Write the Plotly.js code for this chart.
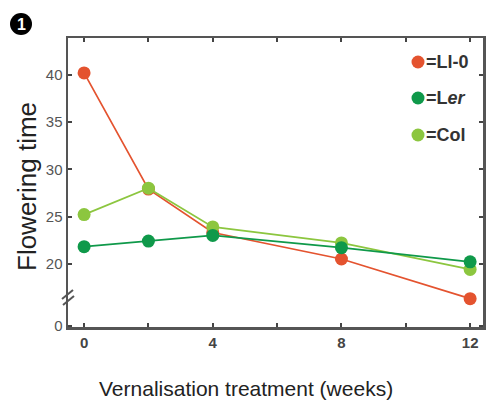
<!DOCTYPE html>
<html>
<head>
<meta charset="utf-8">
<script src="https://cdn.plot.ly/plotly-3.0.1.min.js"></script>
<style>html,body{margin:0;padding:0;background:#fff;}#chart{width:487px;height:401px;}</style>
</head>
<body>
<div id="chart"></div>
<script>
// Data
const weeks = [0, 2, 4, 8, 12];
const ll0 = [40.2, 27.9, 23.3, 20.5, 16.3];
const ler = [21.8, 22.4, 23.0, 21.7, 20.2];
const col = [25.2, 28.0, 23.9, 22.2, 19.4];
const seriesNames = ['=Ll-0', '=L<i>er</i>', '=Col'];
const seriesColors = ['#e4532f', '#0f994a', '#8cc63f'];
const xTickVals = [0, 2, 4, 6, 8, 10, 12];
const xTickText = ['0', '', '4', '', '8', '', '12'];
const yTickVals = [13.45, 20, 25, 30, 35, 40];
const yTickText = ['0', '20', '25', '30', '35', '40'];

const L = 68, R = 4, T = 38, B = 74, W = 487, H = 401;
const pw = W - L - R, ph = H - T - B;
const px2x = p => (p - L) / pw;
const py2y = p => (H - B - p) / ph;

function line(x, y, c) {
  return {x: x, y: y, type: 'scatter', mode: 'lines+markers', showlegend: false,
    line: {color: c, width: 1.7}, marker: {color: c, size: 13}, hoverinfo: 'skip'};
}
const traces = [
  line(weeks, ll0, seriesColors[0]),
  line(weeks, col, seriesColors[2]),
  line(weeks, ler, seriesColors[1])
];

const sans = 'Liberation Sans, Arial, sans-serif';
const annotations = [
  {text: '1', xref: 'paper', yref: 'paper', x: px2x(21), y: py2y(24.5), showarrow: false,
    font: {family: sans, size: 16, color: '#fff', weight: 'bold'}, xanchor: 'center', yanchor: 'middle'},
  {text: 'Flowering time', xref: 'paper', yref: 'paper', x: px2x(27), y: py2y(187), textangle: -90,
    showarrow: false, font: {family: sans, size: 26, color: '#222'},
    xanchor: 'center', yanchor: 'middle'},
  {text: 'Vernalisation treatment (weeks)', xref: 'paper', yref: 'paper', x: px2x(246), y: py2y(388),
    showarrow: false, font: {family: sans, size: 21, color: '#222'},
    xanchor: 'center', yanchor: 'middle'}
];
const shapes = [
  {type: 'circle', xref: 'paper', yref: 'paper', xsizemode: 'pixel', ysizemode: 'pixel',
    xanchor: px2x(21), yanchor: py2y(24), x0: -11, x1: 11, y0: -11, y1: 11,
    fillcolor: '#000', line: {width: 0}},
  {type: 'line', xref: 'paper', yref: 'paper', x0: px2x(62), y0: py2y(299), x1: px2x(73), y1: py2y(290),
    line: {color: '#555', width: 2}},
  {type: 'line', xref: 'paper', yref: 'paper', x0: px2x(63), y0: py2y(305), x1: px2x(74), y1: py2y(296),
    line: {color: '#555', width: 2}}
];
// legend (swatches + labels)
const legendRows = [62, 98, 135];
for (let i = 0; i < 3; i++) {
  shapes.push({type: 'circle', xref: 'paper', yref: 'paper', xsizemode: 'pixel', ysizemode: 'pixel',
    xanchor: px2x(418), yanchor: py2y(legendRows[i]), x0: -6.5, x1: 6.5, y0: -6.5, y1: 6.5,
    fillcolor: seriesColors[i], line: {width: 0}});
  annotations.push({text: seriesNames[i], xref: 'paper', yref: 'paper', x: px2x(424), y: py2y(legendRows[i]),
    showarrow: false, xanchor: 'left', yanchor: 'middle',
    font: {family: sans, size: 18, color: '#333', weight: 'bold'}});
}

const layout = {
  width: W, height: H,
  margin: {l: L, r: R, t: T, b: B, pad: 0},
  paper_bgcolor: '#fff', plot_bgcolor: '#fff',
  font: {family: sans, color: '#444', size: 14},
  showlegend: false,
  xaxis: {range: [-0.5, 12.4], tickvals: xTickVals, ticktext: xTickText,
    ticks: 'inside', ticklen: 4, tickwidth: 2, tickcolor: '#444',
    showline: true, linecolor: '#555', linewidth: 2.5, mirror: 'ticks',
    showgrid: false, zeroline: false,
    tickfont: {size: 15, color: '#444', weight: 'bold'}},
  yaxis: {range: [13.3, 43.9], tickvals: yTickVals, ticktext: yTickText,
    ticks: 'inside', ticklen: 4, tickwidth: 2, tickcolor: '#444',
    showline: true, linecolor: '#555', linewidth: 2.5, mirror: 'ticks',
    showgrid: false, zeroline: false,
    tickfont: {size: 15, color: '#555'}},
  annotations: annotations,
  shapes: shapes
};
Plotly.newPlot('chart', traces, layout, {staticPlot: true, displayModeBar: false});
</script>
</body>
</html>
